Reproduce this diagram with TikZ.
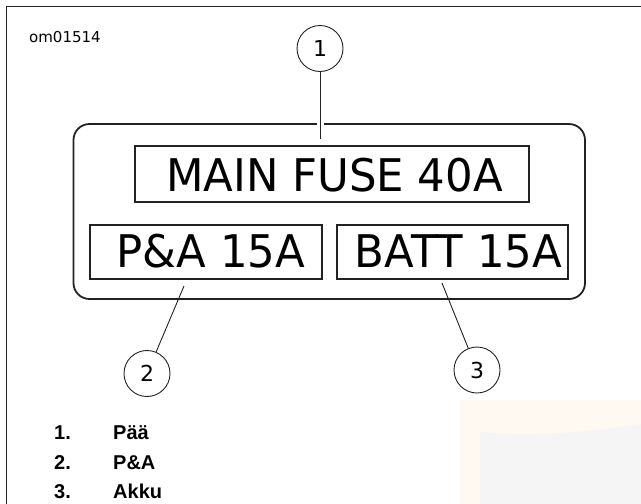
\documentclass[tikz,border=0pt]{standalone}
\usepackage{fontspec}
\newfontfamily\dvs{DejaVu Sans}
\newfontfamily\dvsn{DejaVu Sans}[FakeStretch=0.965]
\newfontfamily\lib{Liberation Sans}
\definecolor{wmbeige}{HTML}{FFF9F2}
\definecolor{wmgray}{HTML}{F5F5F6}
\definecolor{ink}{HTML}{222222}
\begin{document}
\begin{tikzpicture}[x=1pt,y=-1pt,
  fusebox/.style={draw=ink, line width=1.8pt, inner sep=0pt},
  panelbox/.style={draw=ink, line width=1.8pt, rounded corners=16pt, inner sep=0pt},
  callout/.style={circle, draw=ink, line width=0.9pt, minimum size=46pt, inner sep=0pt, font=\dvs\fontsize{22}{22}\selectfont},
  leader/.style={draw=ink, line width=0.9pt},
  bigtxt/.style={font=\dvsn\fontsize{45}{45}\selectfont, inner sep=0pt, text=black},
  itemtxt/.style={font=\lib\bfseries\fontsize{20}{20}\selectfont, anchor=base west, inner sep=0pt}]
\useasboundingbox (0,0) rectangle (641,504);
% faint watermark
\fill[wmbeige] (460,400) rectangle (641,504);
\fill[wmgray] (480,432) .. controls (540,438) and (600,430) .. (641,424) -- (641,504) -- (480,504) -- cycle;
% frame
\draw[ink, line width=1.6pt] (6.5,504) -- (6.5,6.5) -- (641,6.5);
\node[font=\dvs\fontsize{15}{15}\selectfont, anchor=base west, inner sep=0pt] (code) at (29,42) {om01514};
% panel and fuses
\node[panelbox, minimum width=511.5pt, minimum height=175pt] (panel) at (329.25,211.5) {};
\node[fusebox, minimum width=394pt, minimum height=56pt] (main) at (332,174) {};
\node[fusebox, minimum width=232pt, minimum height=54pt] (pa) at (206,252) {};
\node[fusebox, minimum width=231pt, minimum height=54pt] (batt) at (452.5,252) {};
\node[bigtxt] (mainT) at (334.5,175) {MAIN FUSE 40A};
\node[bigtxt] (paT) at (211,251.5) {P\&A 15A};
\node[bigtxt] (battT) at (458.5,251.5) {BATT 15A};
% callouts
\node[callout] (c1) at (320,48.5) {1};
\node[callout] (c2) at (147,373.5) {2};
\node[callout] (c3) at (477,370) {3};
\coordinate (h1) at (320,116);
\coordinate (h2) at (320,132);
\coordinate (l1) at (320,139);
\coordinate (l2) at (184,286);
\coordinate (l3) at (442,283);
\draw[white, line width=7pt] (h1) -- (h2);
\draw[leader] (c1) -- (l1);
\draw[leader] (l2) -- (c2);
\draw[leader] (l3) -- (c3);
% legend
\node[itemtxt] (n1) at (54,439.5) {1.};
\node[itemtxt] (t1) at (113,439.5) {Pää};
\node[itemtxt] (n2) at (54,469) {2.};
\node[itemtxt] (t2) at (113,469) {P\&A};
\node[itemtxt] (n3) at (54,498) {3.};
\node[itemtxt] (t3) at (113,498) {Akku};
\end{tikzpicture}
\end{document}
